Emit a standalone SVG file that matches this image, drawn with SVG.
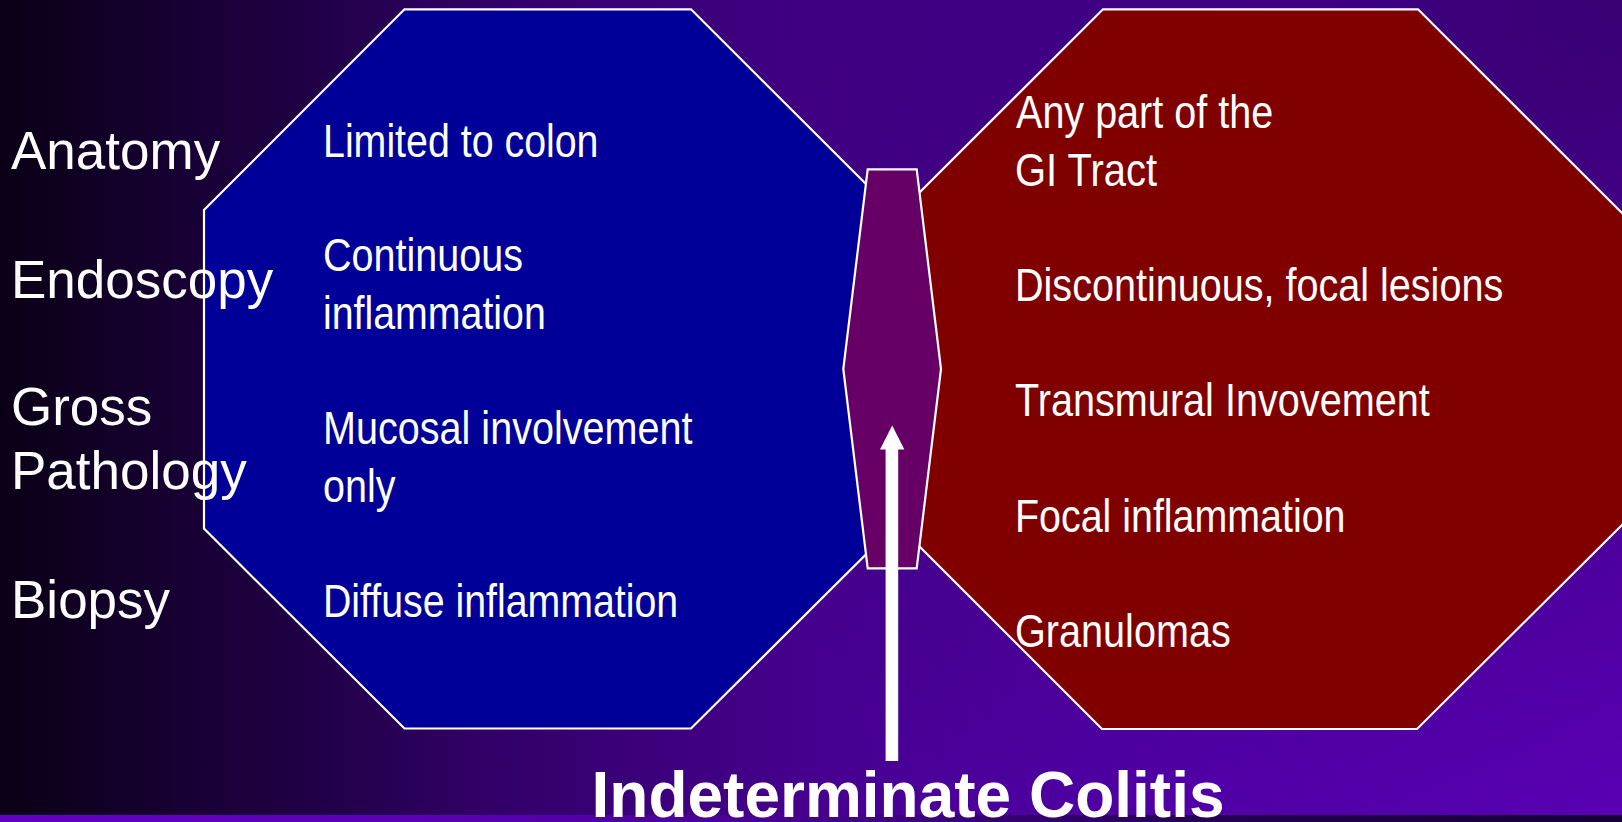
<svg xmlns="http://www.w3.org/2000/svg" width="1622" height="822" viewBox="0 0 1622 822">
  <defs>
    <linearGradient id="bg" gradientUnits="userSpaceOnUse" x1="0" y1="0" x2="1622" y2="0">
      <stop offset="0" stop-color="#0a0016"/>
      <stop offset="0.1" stop-color="#160030"/>
      <stop offset="0.2" stop-color="#210048"/>
      <stop offset="0.31" stop-color="#33006a"/>
      <stop offset="0.5" stop-color="#46008e"/>
      <stop offset="0.75" stop-color="#5600b2"/>
      <stop offset="1" stop-color="#6200c6"/>
    </linearGradient>
    <linearGradient id="strip" gradientUnits="userSpaceOnUse" x1="1622" y1="0" x2="0" y2="0">
      <stop offset="0" stop-color="#160036"/>
      <stop offset="0.2" stop-color="#200048"/>
      <stop offset="0.31" stop-color="#2c0062"/>
      <stop offset="0.5" stop-color="#46008e"/>
      <stop offset="0.75" stop-color="#5a00b8"/>
      <stop offset="1" stop-color="#6200c4"/>
    </linearGradient>
    <radialGradient id="shade" gradientUnits="userSpaceOnUse" cx="1622" cy="0" r="1050">
      <stop offset="0" stop-color="#000000" stop-opacity="0.42"/>
      <stop offset="1" stop-color="#000000" stop-opacity="0"/>
    </radialGradient>
  </defs>
  <style>
    .shape { stroke: #ffffff; stroke-width: 2.2; stroke-linejoin: miter; }
    .label { font-family: "Liberation Sans", Arial, sans-serif; font-size: 53px; fill: #ffffff; }
    .item { font-family: "Liberation Sans Narrow", "Liberation Sans", Arial, sans-serif; font-size: 46px; fill: #ffffff; }
    .title { font-family: "Liberation Sans", Arial, sans-serif; font-size: 64px; font-weight: bold; fill: #ffffff; }
  </style>

  <rect x="0" y="0" width="1622" height="822" fill="url(#bg)"/>
  <rect x="0" y="0" width="1622" height="822" fill="url(#shade)"/>
  <rect x="0" y="815" width="1622" height="7" fill="url(#strip)"/>

  <g id="uc-octagon">
    <polygon class="shape" fill="#000099" points="404.5,9.3 691,9.3 892,210 892,528.6 691,728.5 404.5,728.5 204,528.6 204,210"/>
  </g>
  <g id="cd-octagon">
    <polygon class="shape" fill="#800000" points="1103,9.3 1418,9.3 1624,215 1624,523 1417,729 1102,729 899,526 899,213"/>
  </g>
  <g id="overlap">
    <polygon class="shape" fill="#660066" points="867.7,169.3 916.7,169.3 941,369 916.7,568.3 867.7,568.3 843.3,369"/>
  </g>

  <g id="connectors">
    <rect x="885.6" y="448" width="12.6" height="313" fill="#ffffff"/>
    <polygon points="880,449.5 892.2,425.5 904.4,449.5" fill="#ffffff"/>
  </g>

  <g id="row-labels">
    <text class="label" x="11" y="168.9">Anatomy</text>
    <text class="label" x="11" y="298">Endoscopy</text>
    <text class="label" x="11" y="425.4">Gross</text>
    <text class="label" x="11" y="489">Pathology</text>
    <text class="label" x="11" y="618.2">Biopsy</text>
  </g>

  <g id="uc-text">
    <text class="item" x="323" y="156.8" textLength="275.5" lengthAdjust="spacingAndGlyphs">Limited to colon</text>
    <text class="item" x="323" y="271.1" textLength="200" lengthAdjust="spacingAndGlyphs">Continuous</text>
    <text class="item" x="323" y="329" textLength="222.8" lengthAdjust="spacingAndGlyphs">inflammation</text>
    <text class="item" x="323" y="444.4" textLength="369.5" lengthAdjust="spacingAndGlyphs">Mucosal involvement</text>
    <text class="item" x="323" y="502.2" textLength="72.5" lengthAdjust="spacingAndGlyphs">only</text>
    <text class="item" x="323" y="617.2" textLength="355.2" lengthAdjust="spacingAndGlyphs">Diffuse inflammation</text>
  </g>

  <g id="cd-text">
    <text class="item" x="1016" y="128.3" textLength="257.2" lengthAdjust="spacingAndGlyphs">Any part of the</text>
    <text class="item" x="1015" y="186" textLength="142" lengthAdjust="spacingAndGlyphs">GI Tract</text>
    <text class="item" x="1015" y="300.7" textLength="488.2" lengthAdjust="spacingAndGlyphs">Discontinuous, focal lesions</text>
    <text class="item" x="1015" y="416" textLength="414.8" lengthAdjust="spacingAndGlyphs">Transmural Invovement</text>
    <text class="item" x="1015" y="531.7" textLength="330.5" lengthAdjust="spacingAndGlyphs">Focal inflammation</text>
    <text class="item" x="1015" y="646.7" textLength="215.8" lengthAdjust="spacingAndGlyphs">Granulomas</text>
  </g>

  <g id="indeterminate-label">
    <text class="title" x="908" y="817" text-anchor="middle">Indeterminate Colitis</text>
  </g>
</svg>
